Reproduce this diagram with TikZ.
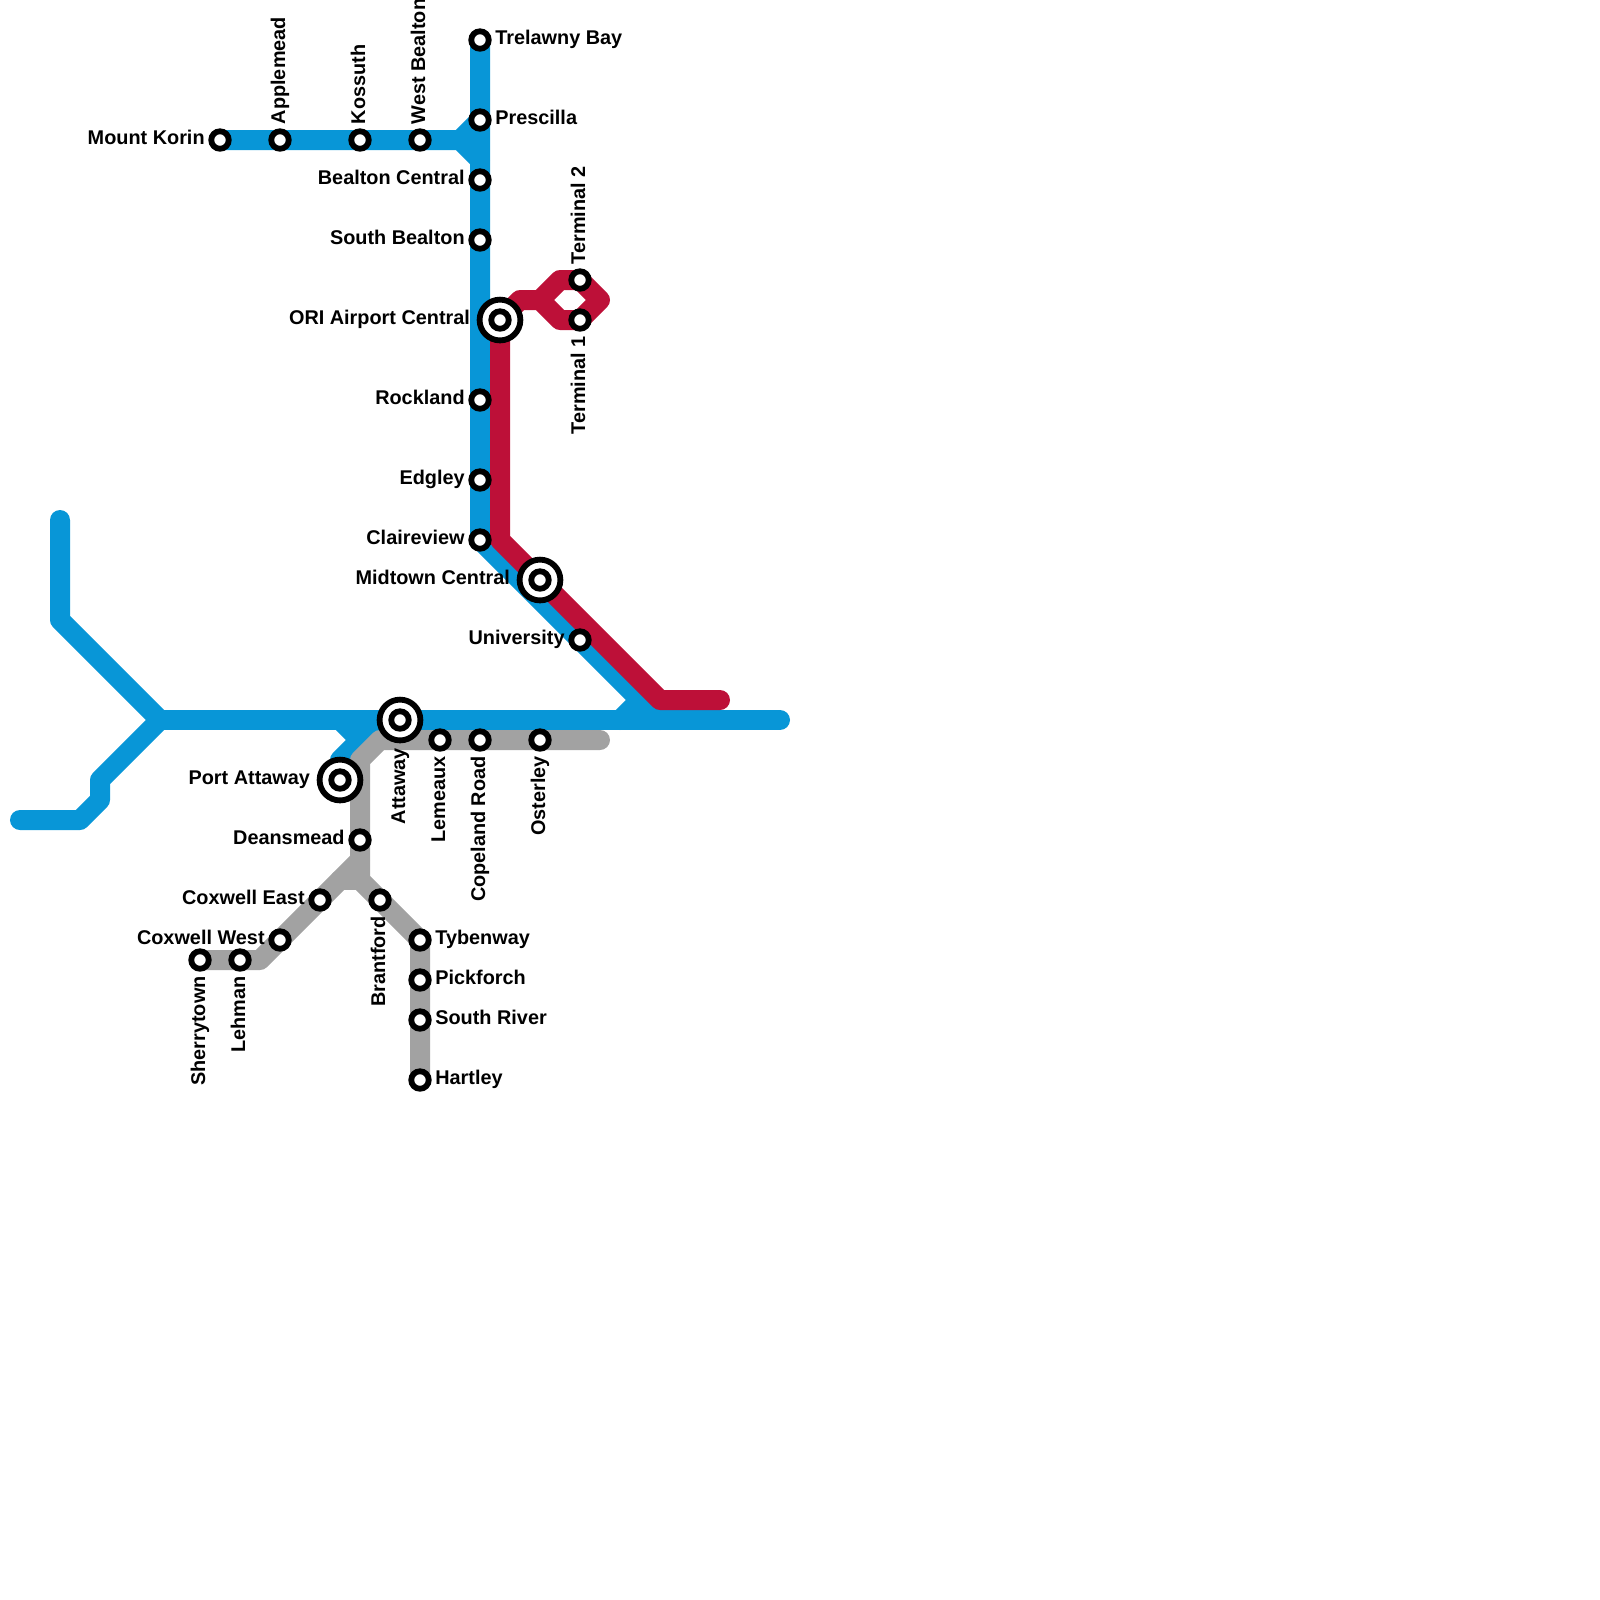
\documentclass[tikz,border=0pt]{standalone}
\usepackage{fontspec}
\setmainfont{Liberation Sans}
\usetikzlibrary{backgrounds}
\definecolor{metroblue}{HTML}{0896D7}
\definecolor{metrored}{HTML}{BD1038}
\definecolor{metrogray}{HTML}{A2A2A2}
\begin{document}
\begin{tikzpicture}[
        x=0.2cm, y=-0.2cm,
        station/.style={circle, draw=black, fill=white, line width=0.58mm, minimum size=0.175cm, inner sep=0pt},
        hub/.style={station, minimum size=0.408cm},
        lbl/.style={font=\fontsize{5.65}{7}\selectfont\bfseries, inner sep=0pt, text height=0.16cm, text depth=0.07cm},
        lblright/.style={lbl, xshift=0.03cm},
        lblleft/.style={lbl, xshift=-0.03cm},
        lblhub/.style={lbl, xshift=-0.06cm},
        lblup/.style={lbl, text depth=0.06cm, yshift=0.035cm, rotate=90, anchor=west},
        lbldown/.style={lbl, text depth=0.06cm, yshift=-0.04cm, rotate=90, anchor=east},
        track/.style={line width=2mm, line cap=round, line join=round},
        bluetrack/.style={track, metroblue},
        redtrack/.style={track, metrored},
        graytrack/.style={track, metrogray},
    ]
    \useasboundingbox (0,0) rectangle (80,80);

    %% ===== Blue trunk =====
    \node[station, label={[lblright]right:Trelawny Bay}] (trelawny) at (24,2) {};
    \node[station, label={[lblright]right:Prescilla}] (prescilla) at (24,6) {};
    \node[station, label={[lblleft]left:Bealton Central}] (bealton) at (24,9) {};
    \node[station, label={[lblleft]left:South Bealton}] (southbealton) at (24,12) {};
    \node[station, label={[lblleft]left:Rockland}] (rockland) at (24,20) {};
    \node[station, label={[lblleft]left:Edgley}] (edgley) at (24,24) {};
    \node[station, label={[lblleft]left:Claireview}] (claireview) at (24,27) {};
    \node[station, label={[lblleft]left:University}] (university) at (29,32) {};

    %% ===== Blue branch to the west =====
    \node[station, label={[lblleft]left:Mount Korin}] (korin) at (11,7) {};
    \node[station, label={[lblup]90:Applemead}] (applemead) at (14,7) {};
    \node[station, label={[lblup]90:Kossuth}] (kossuth) at (18,7) {};
    \node[station, label={[lblup]90:West Bealton}] (westbealton) at (21,7) {};

    %% ===== Airport loop =====
    \node[station, label={[lblup]90:Terminal 2}] (terminaltwo) at (29,14) {};
    \node[station, label={[lbldown]-90:Terminal 1}] (terminalone) at (29,16) {};

    %% ===== Interchanges =====
    \node[hub, label={[lblhub]left:ORI Airport Central}] (ori) at (25,16) {};
    \node[station] (oriin) at (ori.center) {};
    \node[hub, label={[lblhub]left:Midtown Central}] (midtown) at (27,29) {};
    \node[station] (midtownin) at (midtown.center) {};
    \node[hub, label={[lbldown]-90:Attaway}] (attaway) at (20,36) {};
    \node[station] (attawayin) at (attaway.center) {};
    \node[hub, label={[lblhub]left:Port Attaway}] (portattaway) at (17,39) {};
    \node[station] (portattawayin) at (portattaway.center) {};

    %% ===== Gray line =====
    \node[station, label={[lbldown]-90:Lemeaux}] (lemeaux) at (22,37) {};
    \node[station, label={[lbldown]-90:Copeland Road}] (copeland) at (24,37) {};
    \node[station, label={[lbldown]-90:Osterley}] (osterley) at (27,37) {};
    \node[station, label={[lblleft]left:Deansmead}] (deansmead) at (18,42) {};
    \node[station, label={[lblleft]left:Coxwell East}] (coxwelleast) at (16,45) {};
    \node[station, label={[lblleft]left:Coxwell West}] (coxwellwest) at (14,47) {};
    \node[station, label={[lbldown]-90:Lehman}] (lehman) at (12,48) {};
    \node[station, label={[lbldown]-90:Sherrytown}] (sherrytown) at (10,48) {};
    \node[station, label={[lbldown]-90:Brantford}] (brantford) at (19,45) {};
    \node[station, label={[lblright]right:Tybenway}] (tybenway) at (21,47) {};
    \node[station, label={[lblright]right:Pickforch}] (pickforch) at (21,49) {};
    \node[station, label={[lblright]right:South River}] (southriver) at (21,51) {};
    \node[station, label={[lblright]right:Hartley}] (hartley) at (21,54) {};

    %% ===== Free ends and bends =====
    \coordinate (bluejoin) at (33,36);
    \coordinate (bluespur) at (31,36);
    \coordinate (bluespurtop) at (32,35);
    \coordinate (korinfork) at (23,7);
    \coordinate (trunkfork) at (24,8);
    \coordinate (portspur) at (17,36);
    \coordinate (portbend) at (18,37);
    \coordinate (porttop) at (19,36);
    \coordinate (portdiag) at (17,38);
    \coordinate (westfork) at (8,36);
    \coordinate (eastend) at (39,36);
    \coordinate (northend) at (3,26);
    \coordinate (northbend) at (3,31);
    \coordinate (southa) at (5,39);
    \coordinate (southb) at (5,40);
    \coordinate (southc) at (4,41);
    \coordinate (southend) at (1,41);
    \coordinate (reda) at (26,15);
    \coordinate (redb) at (27,15);
    \coordinate (redc) at (28,14);
    \coordinate (redd) at (30,15);
    \coordinate (rede) at (28,16);
    \coordinate (redbend) at (25,27);
    \coordinate (redfoot) at (33,35);
    \coordinate (redend) at (36,35);
    \coordinate (grayend) at (30,37);
    \coordinate (graybend) at (19,37);
    \coordinate (graydiag) at (18,38);
    \coordinate (grayfork) at (18,44);
    \coordinate (grayleft) at (17,44);
    \coordinate (grayshoulder) at (18,43);
    \coordinate (grayfoot) at (13,48);

    %% ===== Tracks =====
    \begin{scope}[on background layer]
        \draw[bluetrack] (trelawny.center) -- (claireview.center) -- (bluejoin);
        \draw[bluetrack] (westfork) -- (eastend);
        \draw[bluetrack] (northend) -- (northbend) -- (westfork) -- (southa) -- (southb) -- (southc) -- (southend);
        \draw[bluetrack] (korin.center) -- (korinfork) -- (trunkfork);
        \draw[bluetrack] (korinfork) -- (prescilla.center);
        \draw[bluetrack] (porttop) -- (portdiag) -- (portattaway.center);
        \draw[bluetrack] (portspur) -- (portbend);
        \draw[bluetrack] (bluespur) -- (bluespurtop);

        \draw[redtrack] (ori.center) -- (redbend) -- (redfoot) -- (redend);
        \draw[redtrack] (ori.center) -- (reda) -- (redb) -- (redc) -- (terminaltwo.center) -- (redd) -- (terminalone.center) -- (rede) -- (redb);

        \draw[graytrack] (grayend) -- (graybend) -- (graydiag) -- (grayfork) -- (tybenway.center) -- (hartley.center);
        \draw[graytrack] (grayfork) -- (grayleft);
        \draw[graytrack] (grayshoulder) -- (grayfoot) -- (sherrytown.center);
    \end{scope}

\end{tikzpicture}
\end{document}
